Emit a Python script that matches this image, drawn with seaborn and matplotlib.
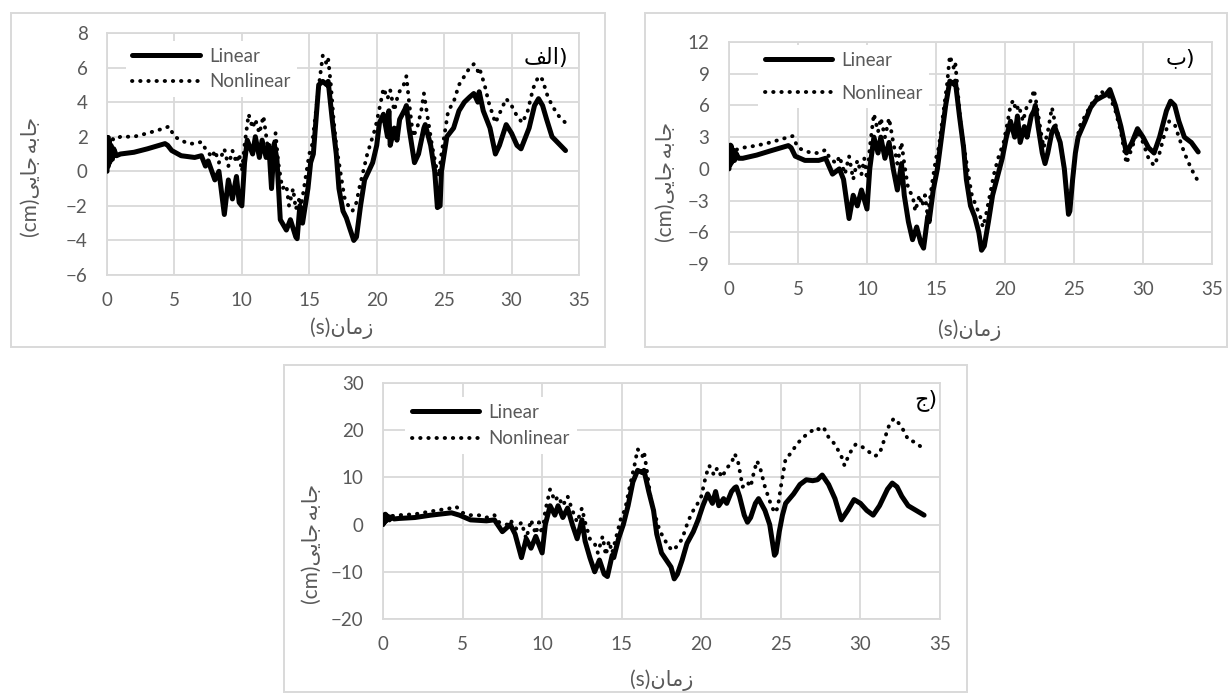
import matplotlib
matplotlib.use("Agg")
import matplotlib.pyplot as plt
import seaborn as sns
from matplotlib.patches import Rectangle

# ---------------- data ----------------
# panel الف
tA_lin = [0, 0.05, 0.1, 0.15, 0.2, 0.3, 0.4, 0.5, 0.7, 1.0,
          2.0, 3.0, 4.3, 4.5, 4.8, 5.5, 6.5, 7.0, 7.3, 7.5,
          8.0, 8.3, 8.7, 9.0, 9.3, 9.6, 9.8, 10.0, 10.2, 10.4,
          10.8, 11.0, 11.3, 11.5, 11.8, 12.0, 12.2, 12.4, 12.6, 12.85,
          13.3, 13.6, 14.0, 14.1, 14.3, 14.5, 14.9, 15.1, 15.3, 15.5,
          15.7, 16.0, 16.3, 16.4, 16.7, 17.0, 17.2, 17.5, 17.75, 18.0,
          18.3, 18.5, 18.8, 19.1, 19.4, 19.7, 20.0, 20.2, 20.5, 20.8,
          20.9, 21.0, 21.3, 21.5, 21.7, 22.1, 22.2, 22.4, 22.7, 22.8,
          23.1, 23.5, 23.6, 24.0, 24.3, 24.5, 24.7, 24.8, 25.0, 25.2,
          25.7, 26.1, 26.5, 26.9, 27.2, 27.5, 27.6, 27.9, 28.4, 28.8,
          29.1, 29.6, 30.0, 30.4, 30.7, 31.3, 31.7, 32.0, 32.3, 32.6,
          33.0, 33.5, 34.0]
vA_lin = [0, 1.6, 0.3, 1.8, 0.5, 1.5, 0.7, 1.3, 0.9, 1.0,
          1.1, 1.3, 1.6, 1.5, 1.2, 0.9, 0.8, 0.9, 0.3, 0.6,
          -0.5, 0.0, -2.5, -0.5, -1.6, -0.3, -1.8, -2.0, 0.5, 1.8,
          1.0, 2.0, 0.8, 1.8, 0.8, 1.5, -1.0, 1.6, 0.7, -2.8,
          -3.4, -2.8, -3.8, -3.9, -2.0, -3.0, -1.0, 0.5, 1.0, 3.0,
          5.0, 5.2, 5.0, 5.2, 3.0, 1.0, -1.0, -2.3, -2.7, -3.3,
          -4.0, -3.8, -2.0, -0.5, 0.0, 0.5, 1.5, 2.8, 3.3, 2.0,
          3.5, 1.5, 2.5, 1.8, 3.0, 3.6, 3.8, 2.5, 1.0, 0.5,
          1.0, 2.5, 2.7, 1.5, 0.0, -2.1, -2.0, 0.0, 1.0, 2.0,
          2.5, 3.5, 4.0, 4.3, 4.5, 4.0, 4.6, 3.5, 2.5, 1.0,
          1.5, 2.7, 2.2, 1.5, 1.3, 2.5, 3.8, 4.2, 3.8, 3.0,
          2.0, 1.6, 1.2]
tA_non = [0, 0.1, 0.2, 0.3, 0.5, 1.0, 2.0, 3.0, 4.3, 4.6,
          5.0, 5.5, 6.0, 6.5, 7.0, 7.3, 7.8, 8.0, 8.3, 8.7,
          9.0, 9.3, 9.6, 9.8, 10.0, 10.2, 10.5, 10.8, 11.0, 11.3,
          11.6, 11.9, 12.2, 12.5, 12.7, 13.0, 13.3, 13.5, 13.8, 14.0,
          14.3, 14.4, 14.7, 15.0, 15.2, 15.5, 15.8, 16.0, 16.3, 16.4,
          16.6, 16.8, 17.0, 17.3, 17.6, 17.9, 18.2, 18.5, 18.7, 19.0,
          19.3, 19.5, 19.9, 20.3, 20.5, 20.8, 21.0, 21.3, 21.6, 22.0,
          22.2, 22.4, 22.7, 23.0, 23.3, 23.5, 23.8, 24.1, 24.4, 24.6,
          24.8, 25.1, 25.3, 25.7, 26.1, 26.5, 26.9, 27.2, 27.5, 27.6,
          28.0, 28.3, 28.8, 29.2, 29.6, 30.0, 30.4, 30.8, 31.2, 31.6,
          32.0, 32.3, 32.6, 33.0, 33.5, 34.0]
vA_non = [1.5, 2.2, 1.6, 2.0, 1.8, 2.0, 2.0, 2.2, 2.5, 2.6,
          2.0, 1.8, 1.6, 1.6, 1.7, 1.3, 0.8, 1.2, 0.5, 1.3,
          0.3, 1.2, 0.5, 1.0, 0.0, 1.5, 3.3, 2.5, 3.0, 2.2,
          3.2, 1.5, 0.5, 2.2, 0.5, -1.0, -0.8, -2.0, -1.0, -2.2,
          -1.5, -2.0, -0.5, 1.0, 1.5, 3.5, 5.5, 6.7, 6.2, 6.5,
          5.0, 3.0, 1.5, 0.0, -1.5, -2.0, -2.3, -1.8, -1.0, 0.0,
          1.0, 1.5, 2.5, 4.0, 4.8, 4.2, 4.7, 3.5, 4.5, 5.0,
          5.5, 4.0, 2.0, 2.5, 3.5, 4.5, 3.0, 1.5, 0.3, -0.3,
          1.0, 2.5, 3.5, 4.0, 5.0, 5.5, 6.0, 6.2, 5.8, 6.0,
          5.0, 4.0, 2.8, 3.5, 4.2, 3.8, 3.2, 2.8, 3.5, 4.8,
          5.5, 5.3, 4.5, 3.8, 3.2, 2.8]

# panel ب
tB_lin = [0, 0.05, 0.1, 0.15, 0.2, 0.3, 0.4, 0.5, 0.7, 1.0,
          2.0, 3.0, 4.3, 4.5, 4.8, 5.5, 6.5, 7.0, 7.5, 8.0,
          8.3, 8.7, 9.0, 9.3, 9.6, 10.0, 10.2, 10.5, 10.8, 11.0,
          11.3, 11.6, 11.9, 12.2, 12.5, 12.7, 13.0, 13.3, 13.6, 13.9,
          14.1, 14.4, 14.5, 14.8, 15.1, 15.4, 15.7, 16.0, 16.3, 16.4,
          16.7, 17.0, 17.2, 17.5, 17.8, 18.1, 18.3, 18.5, 18.8, 19.1,
          19.5, 19.8, 20.1, 20.4, 20.7, 20.9, 21.1, 21.4, 21.6, 21.9,
          22.1, 22.2, 22.4, 22.7, 22.9, 23.1, 23.4, 23.6, 24.0, 24.3,
          24.6, 24.7, 24.9, 25.1, 25.3, 25.8, 26.2, 26.6, 27.0, 27.3,
          27.6, 28.0, 28.4, 28.8, 29.2, 29.6, 30.0, 30.4, 30.8, 31.2,
          31.7, 32.0, 32.3, 32.6, 33.0, 33.5, 34.0]
vB_lin = [0, 2.0, 0.4, 2.2, 0.6, 1.8, 0.8, 1.5, 1.0, 1.0,
          1.3, 1.7, 2.2, 2.0, 1.2, 0.8, 0.8, 1.0, -0.5, 0.0,
          -1.0, -4.7, -2.5, -3.5, -2.0, -3.8, 0.0, 3.0, 1.5, 3.0,
          1.0, 2.5, 0.0, -2.0, 0.5, -2.5, -5.0, -6.7, -5.5, -7.0,
          -7.5, -4.5, -5.0, -2.0, 0.0, 3.0, 6.0, 8.3, 8.0, 8.3,
          5.0, 2.0, -1.0, -3.5, -4.5, -6.0, -7.7, -7.3, -5.0, -2.5,
          -0.5, 1.0, 3.0, 4.5, 3.0, 5.0, 2.5, 4.0, 3.0, 5.0,
          5.5, 6.0, 4.0, 1.5, 0.5, 1.5, 3.5, 4.0, 2.5, 0.0,
          -4.3, -4.0, -1.0, 1.5, 3.0, 4.5, 5.8, 6.5, 6.8, 7.0,
          7.5, 6.0, 4.0, 1.5, 2.5, 3.8, 3.0, 2.0, 1.5, 3.0,
          5.5, 6.4, 6.0, 4.5, 3.0, 2.5, 1.6]
tB_non = [0, 0.1, 0.2, 0.3, 0.5, 1.0, 2.0, 3.0, 4.3, 4.6,
          5.0, 5.5, 6.0, 6.5, 7.0, 7.3, 7.8, 8.0, 8.4, 8.7,
          9.0, 9.3, 9.6, 9.8, 10.0, 10.2, 10.5, 10.8, 11.0, 11.3,
          11.6, 11.9, 12.2, 12.5, 12.7, 13.0, 13.3, 13.5, 13.8, 14.0,
          14.2, 14.4, 14.7, 15.0, 15.2, 15.5, 15.8, 16.0, 16.3, 16.4,
          16.6, 16.8, 17.1, 17.4, 17.6, 17.9, 18.2, 18.4, 18.6, 18.9,
          19.2, 19.5, 19.9, 20.2, 20.4, 20.6, 20.8, 21.0, 21.3, 21.6,
          21.9, 22.1, 22.3, 22.6, 22.8, 23.1, 23.4, 23.6, 24.0, 24.3,
          24.6, 24.8, 25.0, 25.2, 25.4, 25.8, 26.2, 26.6, 27.0, 27.3,
          27.6, 28.0, 28.4, 28.8, 29.2, 29.6, 30.0, 30.4, 30.8, 31.2,
          31.5, 31.9, 32.3, 32.6, 33.0, 33.5, 34.0]
vB_non = [1.5, 2.3, 1.7, 2.1, 1.8, 2.0, 2.2, 2.5, 3.0, 3.1,
          2.0, 1.7, 1.5, 1.5, 1.8, 1.0, 0.5, 1.2, -0.5, 1.2,
          -1.0, 0.8, -0.5, 1.0, -1.0, 2.0, 5.2, 3.5, 4.8, 3.0,
          4.8, 2.5, 0.5, 2.5, 0.5, -2.0, -2.5, -4.0, -2.5, -3.5,
          -2.5, -4.5, -1.5, 1.0, 2.0, 5.0, 8.0, 10.7, 9.5, 10.0,
          7.0, 4.0, 1.5, -1.0, -2.5, -3.5, -4.5, -5.5, -4.5, -2.5,
          -0.5, 1.0, 2.5, 4.5, 6.0, 6.5, 5.5, 6.0, 4.5, 6.0,
          6.5, 7.5, 6.0, 3.5, 2.0, 3.5, 5.8, 4.5, 2.5, 0.0,
          -3.5, -2.5, 0.5, 2.5, 4.0, 5.0, 6.0, 6.8, 7.3, 7.0,
          6.8, 5.5, 3.5, 0.5, 2.0, 3.5, 2.5, 1.0, 0.3, 1.5,
          3.0, 4.5, 4.2, 3.0, 1.5, 0.0, -1.2]

# panel ج
tC_lin = [0, 0.05, 0.1, 0.15, 0.2, 0.3, 0.4, 0.5, 0.7, 1.0,
          2.0, 3.0, 4.3, 4.5, 4.8, 5.5, 6.5, 7.0, 7.5, 8.0,
          8.3, 8.7, 9.0, 9.3, 9.6, 10.0, 10.2, 10.5, 10.8, 11.0,
          11.3, 11.6, 11.9, 12.2, 12.5, 12.7, 13.0, 13.3, 13.6, 13.9,
          14.1, 14.4, 14.5, 14.8, 15.1, 15.4, 15.7, 16.0, 16.3, 16.4,
          16.7, 17.0, 17.2, 17.5, 17.8, 18.1, 18.3, 18.5, 18.8, 19.1,
          19.5, 19.8, 20.1, 20.4, 20.7, 20.9, 21.1, 21.4, 21.6, 21.9,
          22.1, 22.2, 22.4, 22.7, 22.9, 23.1, 23.4, 23.6, 24.0, 24.3,
          24.6, 24.7, 24.9, 25.1, 25.3, 25.8, 26.2, 26.6, 27.0, 27.3,
          27.6, 28.0, 28.4, 28.8, 29.2, 29.6, 30.0, 30.4, 30.8, 31.2,
          31.7, 32.0, 32.3, 32.6, 33.0, 33.5, 34.0]
vC_lin = [0, 2.0, 0.5, 2.2, 0.8, 1.8, 1.0, 1.6, 1.2, 1.3,
          1.5, 2.0, 2.5, 2.3, 2.0, 1.0, 0.8, 1.0, -1.5, 0.0,
          -2.0, -7.0, -3.0, -5.0, -2.5, -6.0, 0.0, 4.0, 2.0, 4.0,
          1.5, 3.5, 0.0, -3.0, 1.0, -3.5, -7.0, -10.0, -7.5, -10.5,
          -11.0, -6.5, -7.0, -3.0, 0.0, 4.0, 9.0, 11.5, 11.0, 11.5,
          7.0, 3.0, -2.0, -6.0, -7.5, -9.0, -11.5, -10.5, -7.5, -4.0,
          -1.5, 1.0, 4.0, 6.5, 4.5, 7.0, 4.0, 5.5, 4.5, 7.0,
          7.8, 8.0, 6.0, 2.0, 0.5, 1.5, 4.5, 5.5, 3.0, 0.0,
          -6.5, -6.0, -1.5, 2.0, 4.5, 6.5, 8.5, 9.5, 9.3, 9.5,
          10.5, 8.5, 5.5, 1.0, 3.0, 5.3, 4.5, 3.0, 2.0, 4.0,
          7.5, 8.8, 8.0, 6.0, 4.0, 3.0, 2.0]
tC_non = [0, 0.1, 0.2, 0.3, 0.5, 1.0, 2.0, 3.0, 4.3, 4.6,
          5.0, 5.5, 6.0, 6.5, 7.0, 7.3, 7.8, 8.0, 8.4, 8.7,
          9.0, 9.3, 9.6, 9.8, 10.0, 10.2, 10.5, 10.8, 11.0, 11.3,
          11.6, 11.9, 12.2, 12.5, 12.7, 13.0, 13.3, 13.5, 13.8, 14.0,
          14.2, 14.4, 14.7, 15.0, 15.2, 15.5, 15.8, 16.0, 16.3, 16.4,
          16.6, 16.8, 17.1, 17.4, 17.6, 17.9, 18.2, 18.5, 18.8, 19.1,
          19.4, 19.7, 20.0, 20.3, 20.5, 20.8, 21.0, 21.3, 21.6, 21.9,
          22.1, 22.3, 22.6, 22.9, 23.1, 23.3, 23.5, 23.7, 24.0, 24.3,
          24.6, 24.8, 25.0, 25.3, 25.6, 26.0, 26.4, 26.8, 27.2, 27.5,
          27.7, 28.0, 28.4, 28.8, 29.0, 29.3, 29.7, 30.1, 30.5, 30.9,
          31.2, 31.5, 31.8, 32.1, 32.4, 32.7, 33.0, 33.4, 33.8, 34.0]
vC_non = [1.0, 2.0, 1.3, 1.8, 1.8, 2.0, 2.2, 2.8, 3.5, 3.8,
          2.5, 2.0, 2.0, 1.5, 2.0, 0.5, 0.0, 1.0, -1.0, 0.5,
          -3.0, 1.0, -2.0, 0.5, -2.0, 3.0, 7.5, 5.0, 6.0, 4.0,
          6.0, 3.0, 0.5, 3.5, 0.5, -3.0, -4.0, -6.0, -2.5, -6.5,
          -3.5, -6.0, -2.0, 2.0, 3.0, 8.0, 12.5, 16.0, 14.5, 15.5,
          11.0, 6.0, 2.0, -1.5, -2.5, -4.5, -5.5, -4.5, -3.0, 0.0,
          2.5, 4.0, 6.0, 10.5, 12.5, 10.5, 12.0, 10.0, 12.0, 13.0,
          15.0, 13.5, 8.0, 9.0, 8.0, 11.0, 13.5, 12.0, 8.0, 5.0,
          2.5, 3.5, 8.0, 14.0, 15.0, 17.0, 18.5, 19.5, 20.5, 20.0,
          20.5, 18.5, 17.0, 14.5, 12.5, 15.0, 17.0, 16.5, 15.5, 14.5,
          15.0, 18.0, 21.0, 22.5, 21.5, 20.0, 18.0, 17.5, 16.5, 17.0]

series_names = ["Linear", "Nonlinear"]
x_ticks = [0, 5, 10, 15, 20, 25, 30, 35]
yticks_A = [-6, -4, -2, 0, 2, 4, 6, 8]
yticks_B = [-9, -6, -3, 0, 3, 6, 9, 12]
yticks_C = [-20, -10, 0, 10, 20, 30]
# panel tags (pre-shaped Arabic presentation forms, visual order)
tag_A = "\uFED2\uFEDF\uFE8D)"   # الف)
tag_B = "\uFE8F)"               # ب)
tag_C = "\uFE9D)"               # ج)
xlabel_txt = "(s)" + "\uFEE5\uFE8E\uFEE3\uFEAF"                              # زمان(s)
ylabel_txt = "(cm)" + "\uFEF0\uFEF3\uFE8E\uFE9F" + "\u2009" + "\uFEEA\uFE91\uFE8E\uFE9F"  # جابه‌جایی(cm)

# ---------------- style ----------------
sns.set_style("white")
plt.rcParams["font.family"] = ["Lato", "DejaVu Sans"]
GRID = "#d9d9d9"
TXT = "#595959"

W, H = 1228, 693
fig = plt.figure(figsize=(W / 100, H / 100), dpi=100)
fig.patch.set_facecolor("white")


def fx(px):
    return px / W


def fy(py):
    return 1 - py / H


# outer boxes (px: left, top, right, bottom)
for (l, t, r, b) in [(11, 13, 605, 347), (645, 13, 1227, 347), (284, 365, 967, 692)]:
    fig.add_artist(Rectangle((fx(l), fy(b)), fx(r) - fx(l), fy(t) - fy(b),
                             transform=fig.transFigure, fill=False,
                             edgecolor=GRID, lw=1.4, zorder=0))

panels = [
    dict(rect=(107, 33, 579, 275), t1=tA_lin, v1=vA_lin, t2=tA_non, v2=vA_non,
         yt=yticks_A, tag=tag_A, tagpos=(0.977, 0.897),
         ylab=(-0.161, 0.405), xlab=(0.498, -0.219),
         leg=(0.04, 0.965), legspace=0.45),
    dict(rect=(729, 42, 1212, 264), t1=tB_lin, v1=vB_lin, t2=tB_non, v2=vB_non,
         yt=yticks_B, tag=tag_B, tagpos=(0.965, 0.928),
         ylab=(-0.130, 0.369), xlab=(0.499, -0.297),
         leg=(0.06, 0.985), legspace=0.85),
    dict(rect=(383, 383, 940, 619), t1=tC_lin, v1=vC_lin, t2=tC_non, v2=vC_non,
         yt=yticks_C, tag=tag_C, tagpos=(0.995, 0.928),
         ylab=(-0.127, 0.318), xlab=(0.50, -0.258),
         leg=(0.04, 0.94), legspace=0.5),
]

for p in panels:
    l, t, r, b = p["rect"]
    ax = fig.add_axes([fx(l), fy(b), fx(r) - fx(l), fy(t) - fy(b)])
    ax.set_facecolor("white")
    sns.lineplot(x=p["t1"], y=p["v1"], ax=ax, color="black", linewidth=3.6,
                 estimator=None, sort=False, solid_joinstyle="round",
                 solid_capstyle="round", zorder=3)
    sns.lineplot(x=p["t2"], y=p["v2"], ax=ax, color="black", linewidth=2.8,
                 estimator=None, sort=False, linestyle=(0, (0.1, 2.0)),
                 dash_capstyle="round", zorder=4)
    lines = ax.get_lines()
    ax.set_xlim(0, 35)
    ax.set_ylim(p["yt"][0], p["yt"][-1])
    ax.set_xticks(x_ticks)
    ax.set_yticks(p["yt"])
    ax.grid(True, color=GRID, lw=1.3, zorder=0)
    ax.set_axisbelow(True)
    for s in ax.spines.values():
        s.set_color(GRID)
        s.set_linewidth(1.3)
    ax.tick_params(axis="both", length=0, labelsize=13.5, colors=TXT)
    ax.tick_params(axis="x", pad=12)
    ax.tick_params(axis="y", pad=14)

    ax.set_xlabel(xlabel_txt, fontsize=15, color=TXT,
                  family=["Lato", "DejaVu Sans"])
    ax.xaxis.set_label_coords(*p["xlab"])
    ax.xaxis.label.set_va("center")
    ax.set_ylabel(ylabel_txt, fontsize=15, color=TXT,
                  family=["Lato", "DejaVu Sans"])
    ax.yaxis.set_label_coords(*p["ylab"])
    ax.yaxis.label.set_va("center")

    ax.text(p["tagpos"][0], p["tagpos"][1], p["tag"], transform=ax.transAxes,
            ha="right", va="center", fontsize=16, color="black",
            family=["DejaVu Sans"], zorder=6)

    leg = ax.legend(lines[:2], series_names, loc="upper left",
                    bbox_to_anchor=p["leg"], frameon=True, fontsize=13.5,
                    handlelength=3.6, handletextpad=0.5,
                    labelspacing=p["legspace"], borderpad=0.35,
                    borderaxespad=0, fancybox=False)
    leg.get_frame().set_facecolor("white")
    leg.get_frame().set_edgecolor("none")
    leg.get_frame().set_alpha(1)
    leg.set_zorder(5)
    for txt in leg.get_texts():
        txt.set_color(TXT)

fig.savefig("out.png", dpi=100, facecolor="white")
